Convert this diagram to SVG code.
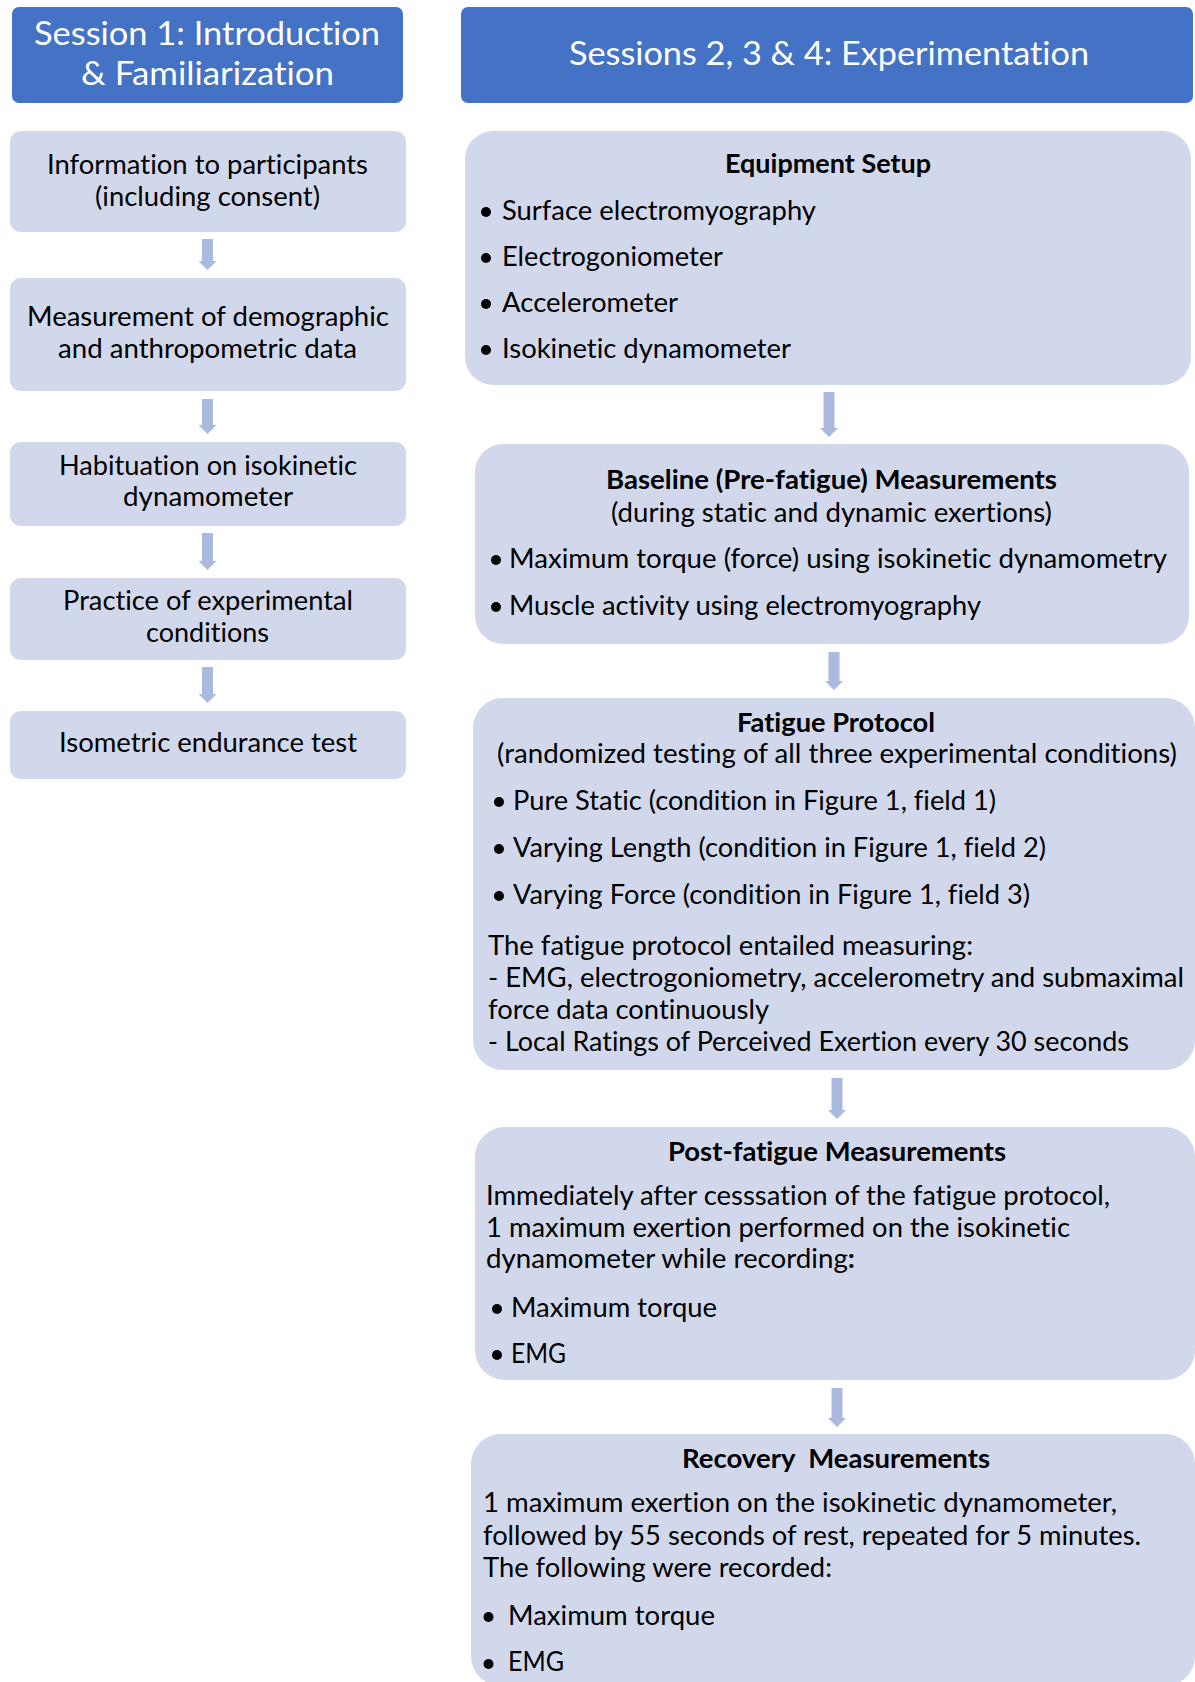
<svg xmlns="http://www.w3.org/2000/svg" width="1195" height="1682" viewBox="0 0 1195 1682">
<style>
.hdr{fill:#4472C4}
.box{fill:#D1D8EB}
.arr{fill:#AAB9DF}
.ht{font-family:Lato,"Liberation Sans",Arial,sans-serif;font-size:33px;fill:#FFFFFF;font-variant-ligatures:none;font-feature-settings:"liga" 0,"dlig" 0}
.t{font-family:Lato,"Liberation Sans",Arial,sans-serif;font-size:27px;fill:#000000;white-space:pre;font-variant-ligatures:none;font-feature-settings:"liga" 0,"dlig" 0}
.b{font-weight:bold}
.dot{fill:#000000}
</style>
<rect width="1195" height="1682" fill="#FFFFFF"/>
<g id="header-session1">
<rect class="hdr" x="12" y="7" width="391" height="96" rx="7"/>
<text class="ht" x="34" y="45" textLength="346" lengthAdjust="spacingAndGlyphs">Session 1: Introduction</text>
<text class="ht" x="81" y="85" textLength="253" lengthAdjust="spacingAndGlyphs">&amp; Familiarization</text>
</g>
<g id="header-sessions234">
<rect class="hdr" x="461" y="7" width="732" height="96" rx="7"/>
<text class="ht" x="569" y="65" textLength="520" lengthAdjust="spacingAndGlyphs">Sessions 2, 3 &amp; 4: Experimentation</text>
</g>
<g id="connectors">
<polygon class="arr" points="202,239 213,239 213,261 216.5,261 207.5,270 198.5,261 202,261"/>
<polygon class="arr" points="202,399 213,399 213,425 216.5,425 207.5,434 198.5,425 202,425"/>
<polygon class="arr" points="202,533 213,533 213,561 216.5,561 207.5,570 198.5,561 202,561"/>
<polygon class="arr" points="202,667 213,667 213,694 216.5,694 207.5,703 198.5,694 202,694"/>
<polygon class="arr" points="823.5,392 834.5,392 834.5,428 838,428 829,437 820,428 823.5,428"/>
<polygon class="arr" points="828.5,652 839.5,652 839.5,681 843,681 834,690 825,681 828.5,681"/>
<polygon class="arr" points="831.5,1078 842.5,1078 842.5,1110 846,1110 837,1119 828,1110 831.5,1110"/>
<polygon class="arr" points="831.5,1388 842.5,1388 842.5,1418 846,1418 837,1427 828,1418 831.5,1418"/>
</g>
<g id="node-information">
<rect class="box" x="10" y="131" width="396" height="101" rx="11"/>
<text class="t" x="47" y="174" textLength="321" lengthAdjust="spacingAndGlyphs">Information to participants</text>
<text class="t" x="95" y="206" textLength="225" lengthAdjust="spacingAndGlyphs">(including consent)</text>
</g>
<g id="node-measurement">
<rect class="box" x="10" y="278" width="396" height="113" rx="11"/>
<text class="t" x="27" y="326" textLength="362" lengthAdjust="spacingAndGlyphs">Measurement of demographic</text>
<text class="t" x="58" y="358" textLength="299" lengthAdjust="spacingAndGlyphs">and anthropometric data</text>
</g>
<g id="node-habituation">
<rect class="box" x="10" y="442" width="396" height="84" rx="11"/>
<text class="t" x="59" y="475" textLength="298" lengthAdjust="spacingAndGlyphs">Habituation on isokinetic</text>
<text class="t" x="123" y="506" textLength="170" lengthAdjust="spacingAndGlyphs">dynamometer</text>
</g>
<g id="node-practice">
<rect class="box" x="10" y="578" width="396" height="82" rx="11"/>
<text class="t" x="63" y="610" textLength="290" lengthAdjust="spacingAndGlyphs">Practice of experimental</text>
<text class="t" x="146" y="642" textLength="123" lengthAdjust="spacingAndGlyphs">conditions</text>
</g>
<g id="node-isometric">
<rect class="box" x="10" y="711" width="396" height="68" rx="11"/>
<text class="t" x="59" y="752" textLength="298" lengthAdjust="spacingAndGlyphs">Isometric endurance test</text>
</g>
<g id="node-equipment">
<rect class="box" x="465" y="131" width="726" height="254" rx="28"/>
<text class="t b" x="725" y="173" textLength="206" lengthAdjust="spacingAndGlyphs">Equipment Setup</text>
<circle class="dot" cx="486" cy="212" r="5"/>
<text class="t" x="502" y="220" textLength="314" lengthAdjust="spacingAndGlyphs">Surface electromyography</text>
<circle class="dot" cx="486" cy="258" r="5"/>
<text class="t" x="502" y="266" textLength="221" lengthAdjust="spacingAndGlyphs">Electrogoniometer</text>
<circle class="dot" cx="486" cy="304" r="5"/>
<text class="t" x="502" y="312" textLength="176" lengthAdjust="spacingAndGlyphs">Accelerometer</text>
<circle class="dot" cx="486" cy="350" r="5"/>
<text class="t" x="502" y="358" textLength="289" lengthAdjust="spacingAndGlyphs">Isokinetic dynamometer</text>
</g>
<g id="node-baseline">
<rect class="box" x="475" y="444" width="714" height="200" rx="28"/>
<text class="t b" x="606" y="489" textLength="451" lengthAdjust="spacingAndGlyphs">Baseline (Pre-fatigue) Measurements</text>
<text class="t" x="611" y="522" textLength="441" lengthAdjust="spacingAndGlyphs">(during static and dynamic exertions)</text>
<circle class="dot" cx="496" cy="560" r="5"/>
<text class="t" x="509" y="568" textLength="658" lengthAdjust="spacingAndGlyphs">Maximum torque (force) using isokinetic dynamometry</text>
<circle class="dot" cx="496" cy="607" r="5"/>
<text class="t" x="509" y="615" textLength="472" lengthAdjust="spacingAndGlyphs">Muscle activity using electromyography</text>
</g>
<g id="node-fatigue">
<rect class="box" x="473" y="698" width="722" height="372" rx="30"/>
<text class="t b" x="737" y="732" textLength="198" lengthAdjust="spacingAndGlyphs">Fatigue Protocol</text>
<text class="t" x="497" y="763" textLength="680" lengthAdjust="spacingAndGlyphs">(randomized testing of all three experimental conditions)</text>
<circle class="dot" cx="499" cy="802" r="5"/>
<text class="t" x="513" y="810" textLength="483" lengthAdjust="spacingAndGlyphs">Pure Static (condition in Figure 1, field 1)</text>
<circle class="dot" cx="499" cy="849" r="5"/>
<text class="t" x="513" y="857" textLength="533" lengthAdjust="spacingAndGlyphs">Varying Length (condition in Figure 1, field 2)</text>
<circle class="dot" cx="499" cy="896" r="5"/>
<text class="t" x="513" y="904" textLength="517" lengthAdjust="spacingAndGlyphs">Varying Force (condition in Figure 1, field 3)</text>
<text class="t" x="488" y="955" textLength="485" lengthAdjust="spacingAndGlyphs">The fatigue protocol entailed measuring:</text>
<text class="t" x="488" y="987" textLength="696" lengthAdjust="spacingAndGlyphs">- EMG, electrogoniometry, accelerometry and submaximal</text>
<text class="t" x="488" y="1019" textLength="281" lengthAdjust="spacingAndGlyphs">force data continuously</text>
<text class="t" x="488" y="1051" textLength="641" lengthAdjust="spacingAndGlyphs">- Local Ratings of Perceived Exertion every 30 seconds</text>
</g>
<g id="node-postfatigue">
<rect class="box" x="475" y="1127" width="720" height="253" rx="30"/>
<text class="t b" x="668" y="1161" textLength="338" lengthAdjust="spacingAndGlyphs">Post-fatigue Measurements</text>
<text class="t" x="486" y="1205" textLength="624" lengthAdjust="spacingAndGlyphs">Immediately after cesssation of the fatigue protocol,</text>
<text class="t" x="486" y="1237" textLength="584" lengthAdjust="spacingAndGlyphs">1 maximum exertion performed on the isokinetic</text>
<text class="t" x="486" y="1268" textLength="369" lengthAdjust="spacingAndGlyphs">dynamometer while recording<tspan class="b">:</tspan></text>
<circle class="dot" cx="497" cy="1309" r="5"/>
<text class="t" x="511" y="1317" textLength="206" lengthAdjust="spacingAndGlyphs">Maximum torque</text>
<circle class="dot" cx="497" cy="1355" r="5"/>
<text class="t" x="511" y="1363" textLength="55" lengthAdjust="spacingAndGlyphs">EMG</text>
</g>
<g id="node-recovery">
<rect class="box" x="471" y="1434" width="724" height="252" rx="30"/>
<text class="t b" x="682" y="1468" textLength="308" lengthAdjust="spacingAndGlyphs">Recovery  Measurements</text>
<text class="t" x="483" y="1512" textLength="634" lengthAdjust="spacingAndGlyphs">1 maximum exertion on the isokinetic dynamometer,</text>
<text class="t" x="483" y="1545" textLength="658" lengthAdjust="spacingAndGlyphs">followed by 55 seconds of rest, repeated for 5 minutes.</text>
<text class="t" x="483" y="1577" textLength="349" lengthAdjust="spacingAndGlyphs">The following were recorded:</text>
<circle class="dot" cx="488.5" cy="1617" r="5"/>
<text class="t" x="508" y="1625" textLength="207" lengthAdjust="spacingAndGlyphs">Maximum torque</text>
<circle class="dot" cx="488.5" cy="1664" r="5"/>
<text class="t" x="508" y="1671" textLength="56" lengthAdjust="spacingAndGlyphs">EMG</text>
</g>
</svg>
